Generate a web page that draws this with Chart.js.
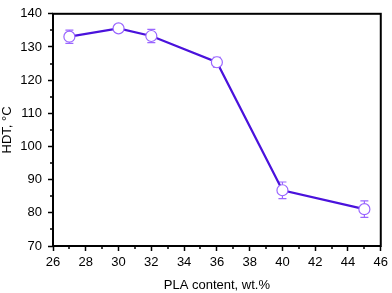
<!DOCTYPE html>
<html>
<head>
<meta charset="utf-8">
<script src="https://cdn.jsdelivr.net/npm/chart.js@4/dist/chart.umd.min.js"></script>
<style>
  html, body { margin: 0; padding: 0; background: #fff; }
  #wrap { width: 392px; height: 293px; }
</style>
</head>
<body>
<div id="wrap"><canvas id="grafico"></canvas></div>
<script>
// valores
const conteudoPLA = [27, 30, 32, 36, 40, 45];
const hdt = [133.1, 135.6, 133.3, 125.4, 86.8, 81.1];
const erro = [2.0, 0.8, 2.0, 1.5, 2.5, 2.5];
const ticksX = [26, 28, 30, 32, 34, 36, 38, 40, 42, 44, 46];
const ticksY = [70, 80, 90, 100, 110, 120, 130, 140];

const corLinha = '#4a12dc';
const corMarcador = '#9a66ff';

// barras de erro (atrás dos marcadores)
const barrasErro = {
    id: 'barrasErro',
    beforeDatasetsDraw(chart) {
        const ctx = chart.ctx;
        const x = chart.scales.x;
        const y = chart.scales.y;

        ctx.save();
        ctx.strokeStyle = corMarcador;
        ctx.lineWidth = 1.2;
        for (let i = 0; i < conteudoPLA.length; i++) {
            const px = x.getPixelForValue(conteudoPLA[i]);
            const top = y.getPixelForValue(hdt[i] + erro[i]);
            const bot = y.getPixelForValue(hdt[i] - erro[i]);
            ctx.beginPath();
            ctx.moveTo(px, top); ctx.lineTo(px, bot);
            ctx.moveTo(px - 4, top); ctx.lineTo(px + 4, top);
            ctx.moveTo(px - 4, bot); ctx.lineTo(px + 4, bot);
            ctx.stroke();
        }
        ctx.restore();
    }
};

// moldura e ticks menores
const moldura = {
    id: 'moldura',
    afterDatasetsDraw(chart) {
        const ctx = chart.ctx;
        const x = chart.scales.x;
        const y = chart.scales.y;
        const area = chart.chartArea;

        ctx.save();
        ctx.strokeStyle = '#000';
        ctx.lineWidth = 2;
        ctx.strokeRect(area.left, area.top, area.right - area.left, area.bottom - area.top);

        ctx.lineWidth = 1.5;
        ctx.beginPath();
        for (let v = 27; v < 46; v += 2) {
            const px = Math.round(x.getPixelForValue(v));
            ctx.moveTo(px, area.bottom); ctx.lineTo(px, area.bottom + 3);
        }
        for (let v = 75; v < 140; v += 10) {
            const py = Math.round(y.getPixelForValue(v));
            ctx.moveTo(area.left, py); ctx.lineTo(area.left - 3, py);
        }
        ctx.stroke();
        ctx.restore();
    }
};

const fonte = { family: 'Liberation Sans, Arial, sans-serif', size: 13 };

const config = {
    type: 'scatter',
    data: {
        datasets: [{
            data: conteudoPLA.map((v, i) => ({ x: v, y: hdt[i] })),
            showLine: true,
            borderColor: corLinha,
            borderWidth: 2.2,
            pointRadius: 5.5,
            pointBorderWidth: 1.2,
            pointBorderColor: corMarcador,
            pointBackgroundColor: '#fff'
        }]
    },
    options: {
        responsive: true,
        maintainAspectRatio: false,
        animation: false,
        layout: { padding: { top: 6, right: 8, bottom: 0, left: 0 } },
        plugins: {
            legend: { display: false },
            tooltip: { enabled: false }
        },
        scales: {
            x: {
                type: 'linear',
                min: 26,
                max: 46,
                afterBuildTicks: (s) => { s.ticks = ticksX.map(v => ({ value: v })); },
                afterFit: (s) => { s.height = 47; },
                ticks: { color: '#000', font: fonte, padding: 4, maxRotation: 0 },
                grid: { drawOnChartArea: false, tickLength: 5, tickWidth: 1.5, tickColor: '#000' },
                border: { display: false },
                title: { display: true, text: 'PLA content, wt.%', color: '#000', font: fonte, padding: { top: 0, bottom: 0 } }
            },
            y: {
                min: 70,
                max: 140,
                afterBuildTicks: (s) => { s.ticks = ticksY.map(v => ({ value: v })); },
                afterFit: (s) => { s.width = 53; },
                ticks: { color: '#000', font: fonte, padding: 6 },
                grid: { drawOnChartArea: false, tickLength: 5, tickWidth: 1.5, tickColor: '#000' },
                border: { display: false },
                title: { display: true, text: 'HDT, °C', color: '#000', font: fonte, padding: { top: 0, bottom: 0 } }
            }
        }
    },
    plugins: [barrasErro, moldura]
};

const grafico = new Chart(document.getElementById('grafico').getContext('2d'), config);
</script>
</body>
</html>
